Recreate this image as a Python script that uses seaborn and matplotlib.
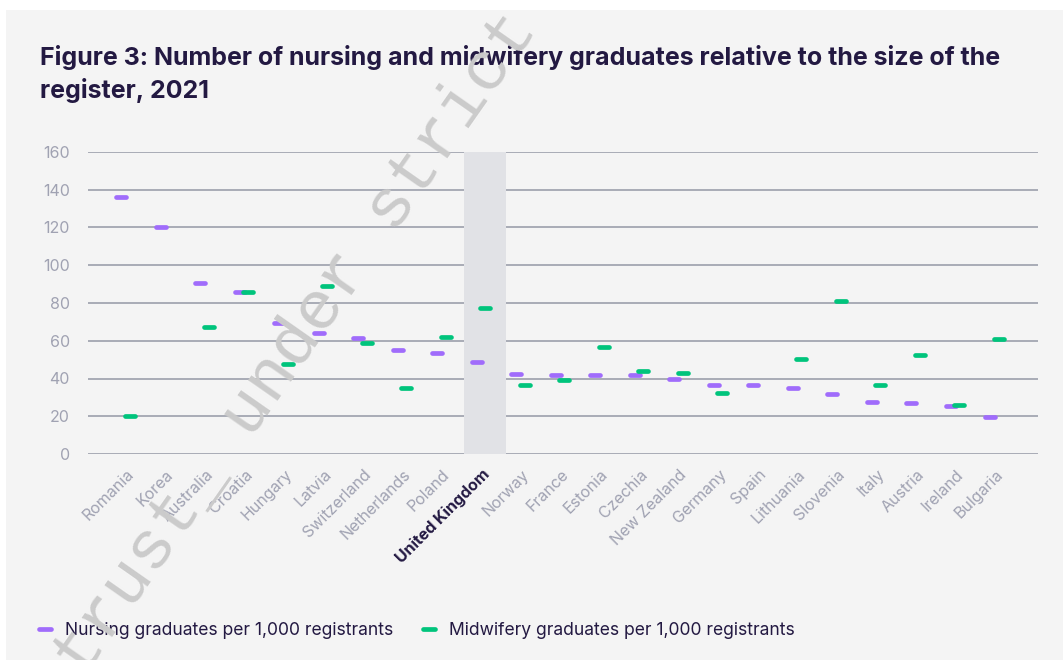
import numpy as np
import pandas as pd
import matplotlib
matplotlib.use("Agg")
import matplotlib.pyplot as plt
import matplotlib.transforms as mtrans
from matplotlib.patches import Rectangle
from matplotlib.lines import Line2D
import seaborn as sns

countries = ["Romania", "Korea", "Australia", "Croatia", "Hungary", "Latvia",
             "Switzerland", "Netherlands", "Poland", "United Kingdom", "Norway",
             "France", "Estonia", "Czechia", "New Zealand", "Germany", "Spain",
             "Lithuania", "Slovenia", "Italy", "Austria", "Ireland", "Bulgaria"]
nursing = [136.1, 120.0, 90.5, 85.6, 69.2, 64.3, 61.2, 55.2, 53.3, 48.5, 42.5,
           42.1, 42.1, 41.9, 39.6, 36.8, 36.3, 34.9, 31.6, 27.8, 27.1, 25.2, 19.4]
midwifery = [20.0, np.nan, 67.5, 85.7, 47.5, 88.8, 58.8, 35.1, 62.1, 77.4, 36.3,
             39.3, 56.5, 43.9, 43.0, 32.1, np.nan, 50.2, 80.9, 36.3, 52.7, 26.0, 61.1]
yticks = [0, 20, 40, 60, 80, 100, 120, 140, 160]

nurse_label = "Nursing graduates per 1,000 registrants"
mid_label = "Midwifery graduates per 1,000 registrants"
highlight = "United Kingdom"

purple = "#a06cfb"
green = "#00c47c"
dark = "#231942"
grey_txt = "#a0a2b2"

sns.set_theme(style="white")
plt.rcParams["font.family"] = ["Inter", "DejaVu Sans"]

fig = plt.figure(figsize=(10.63, 6.6), dpi=100)
fig.patch.set_facecolor("white")
# light grey panel behind everything
bg = fig.add_axes([6 / 1063, 0, 1, 1 - 10 / 660], zorder=-5)
bg.set_axis_off()
bg.add_patch(Rectangle((0, 0), 1, 1, transform=bg.transAxes, facecolor="#f4f4f4", edgecolor="none"))

ax = fig.add_axes([88 / 1063, 1 - 454 / 660, 950 / 1063, 302 / 660])
ax.set_facecolor("none")

df = pd.DataFrame({"country": countries, "nursing": nursing, "midwifery": midwifery})
df["pos"] = np.arange(len(df))

sns.scatterplot(x=df["pos"] - 0.11, y=df["nursing"], ax=ax, marker="_", s=60,
                linewidth=3.4, color=purple, zorder=3, legend=False)
sns.scatterplot(x=df["pos"] + 0.11, y=df["midwifery"], ax=ax, marker="_", s=60,
                linewidth=3.4, color=green, zorder=4, legend=False)
for coll in ax.collections:
    coll.set_capstyle("round")

uk = countries.index(highlight)
ax.axvspan(uk - 0.44, uk + 0.62, color="#e1e2e6", zorder=1, lw=0)

ax.set_ylim(0, 160)
ax.set_xlim(-0.95, 23.1)
ax.set_yticks(yticks)
ax.grid(axis="y", color="#a3a6b1", linewidth=1.3, zorder=2)
ax.grid(axis="x", visible=False)
for s in ax.spines.values():
    s.set_visible(False)

ax.set_xlabel("")
ax.set_ylabel("")
ax.set_xticks(df["pos"])
ax.set_xticklabels(countries, rotation=45, ha="right", va="center", rotation_mode="anchor")
ax.tick_params(axis="x", length=0, pad=13, labelsize=11.5, labelcolor=grey_txt)
ax.tick_params(axis="y", length=0, pad=13, labelsize=11.5, labelcolor=grey_txt)
shift = mtrans.ScaledTranslation(6 / 100, 0, fig.dpi_scale_trans)
for lab in ax.get_xticklabels():
    lab.set_transform(lab.get_transform() + shift)
    if lab.get_text() == highlight:
        lab.set_color(dark)
        lab.set_fontweight("bold")

handles = [Line2D([], [], color=purple, lw=3.4, solid_capstyle="round"),
           Line2D([], [], color=green, lw=3.4, solid_capstyle="round")]
leg = ax.legend(handles, [nurse_label, mid_label], loc="lower left",
                bbox_to_anchor=(23 / 1063, 5 / 660), bbox_transform=fig.transFigure,
                ncol=2, frameon=False, fontsize=12.6, handlelength=0.7,
                handletextpad=0.8, columnspacing=1.7)
for t in leg.get_texts():
    t.set_color(dark)

fig.text(40 / 1063, 1 - 45 / 660,
         "Figure 3: Number of nursing and midwifery graduates relative to the size of the\nregister, 2021",
         ha="left", va="top", fontsize=18, fontweight="bold", color=dark, linespacing=1.38)

fig.text(296 / 1063, 1 - 344 / 660, "trust_ under strict", rotation=55,
         ha="center", va="center", fontsize=50, color="#cbcbcb",
         family=["Liberation Mono", "DejaVu Sans Mono"], zorder=10)

fig.savefig("out.png", dpi=100)
